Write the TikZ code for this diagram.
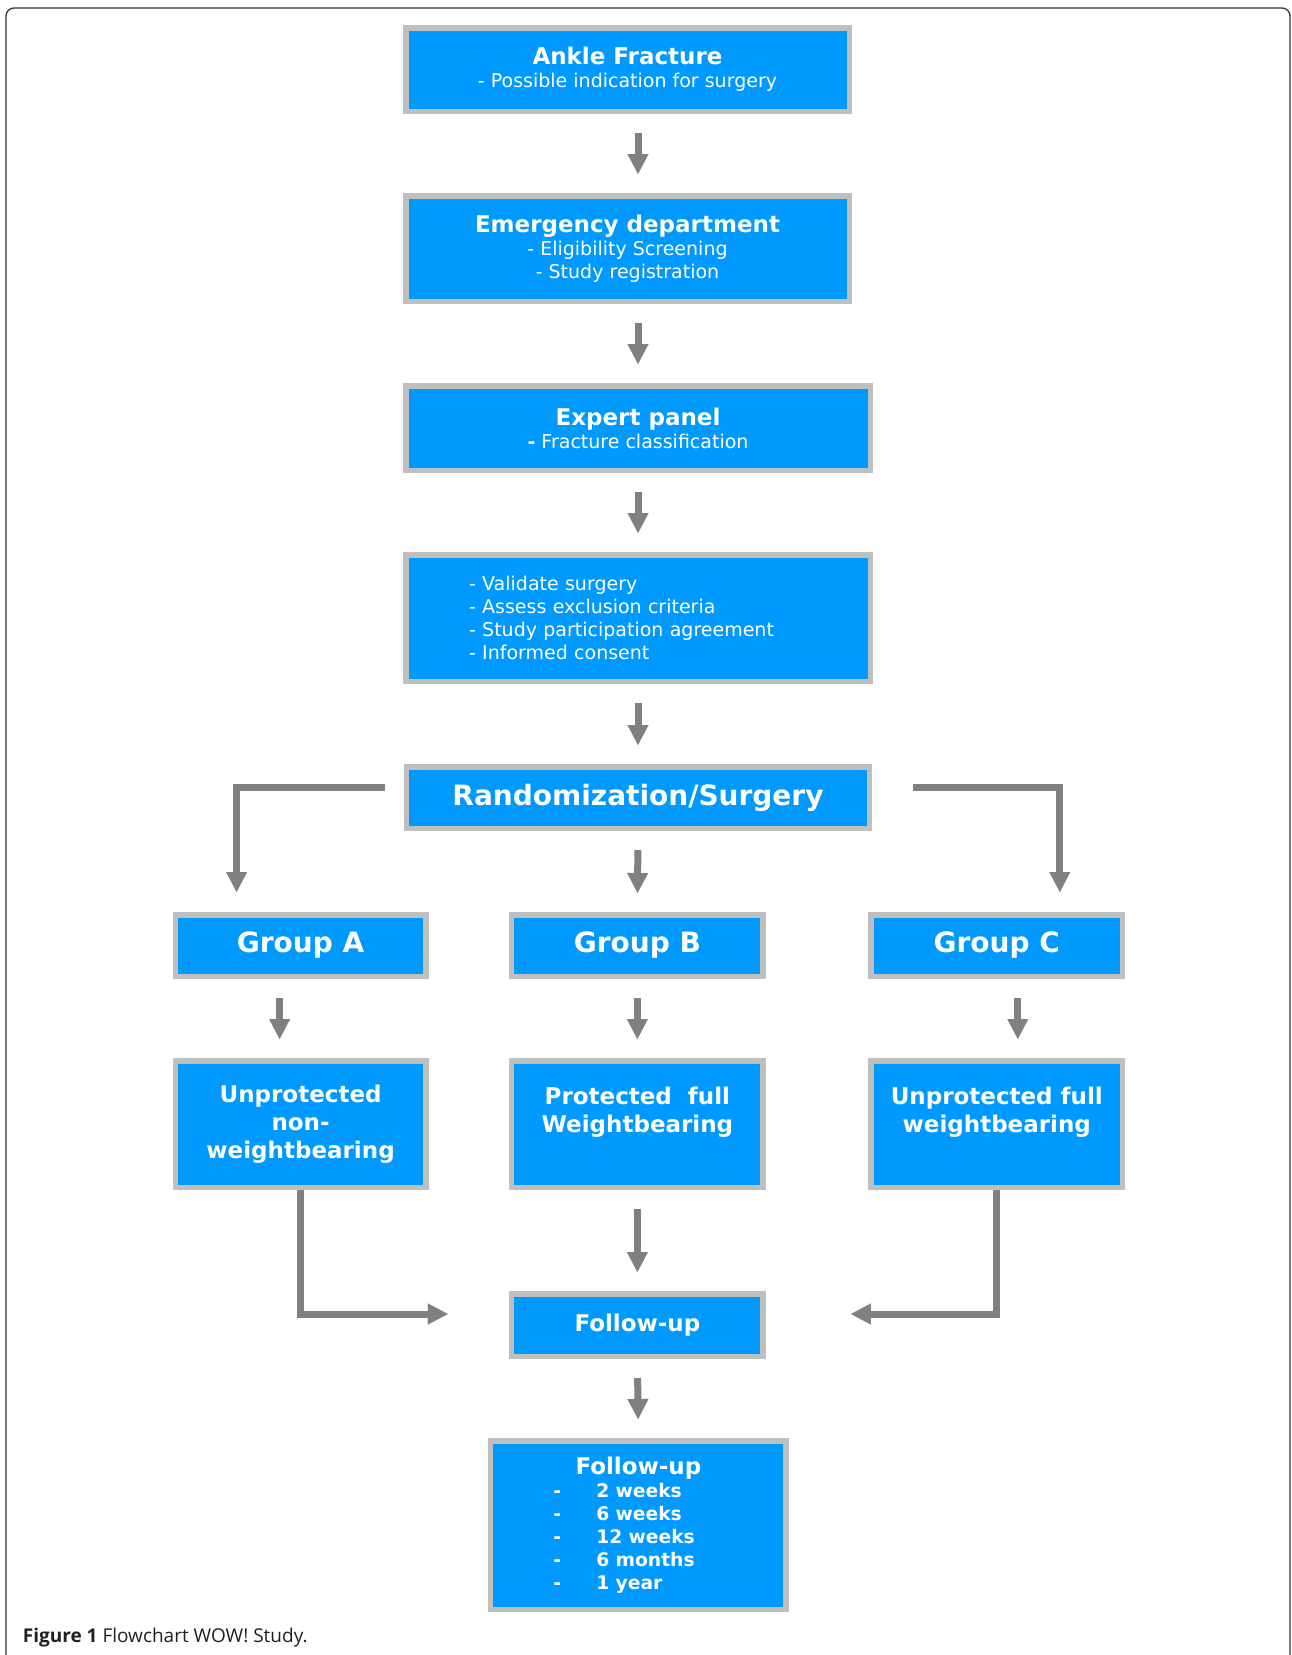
\documentclass[tikz,border=0pt]{standalone}
\usepackage{fontspec}
\setmainfont{DejaVu Sans}
\newfontfamily\captionfont{Open Sans}
\usetikzlibrary{arrows.meta}

\definecolor{boxblue}{RGB}{0,153,255}
\definecolor{boxgray}{RGB}{191,191,191}
\definecolor{arrowgray}{RGB}{128,128,128}
\definecolor{capgray}{RGB}{35,31,32}

\tikzset{
  box/.style={draw=boxgray, fill=boxblue, line width=5.5pt, text=white, align=center, inner sep=0pt,
    font=\fontsize{19}{23}\selectfont},
  bigbox/.style={box, font=\fontsize{28}{30}\selectfont\bfseries},
  armbox/.style={box, font=\fontsize{23}{28}\selectfont\bfseries},
  flow/.style={draw=arrowgray, line width=7pt, -{Triangle[width=21pt,length=20pt,line width=0.1pt]},
    shorten <=19pt, shorten >=19pt},
  elbow/.style={draw=arrowgray, line width=7pt, -{Triangle[width=21pt,length=20pt,line width=0.1pt]}},
}
\newcommand{\ttl}[1]{{\bfseries\fontsize{23}{23}\selectfont #1}}
\newcommand{\fitem}[1]{\makebox[43pt][l]{-}#1}

\begin{document}
\begin{tikzpicture}[x=1pt, y=-1pt]
  \useasboundingbox (0,0) rectangle (1292,1655);
  % Frame round the figure
  \draw[black!80, line width=1.3pt, rounded corners=8pt] (6,1655) -- (6,8) -- (1290,8) -- (1290,1655);

  % Screening steps
  \node[box, minimum width=443.5pt, minimum height=83.5pt] (ankle) at (627.5,69.5)
    {\ttl{Ankle Fracture}\\- Possible indication for surgery};
  \node[box, minimum width=443.5pt, minimum height=105.5pt] (emergency) at (627.5,248.5)
    {\ttl{Emergency department}\\- Eligibility Screening\\- Study registration};
  \node[box, minimum width=464.5pt, minimum height=84.5pt] (expert) at (638,428)
    {\ttl{Expert panel}\\{\bfseries -} Fracture classification};
  \node[box, minimum width=464.5pt, minimum height=126.5pt, text width=338pt, align=left] (validate) at (638,618)
    {- Validate surgery\\- Assess exclusion criteria\\- Study participation agreement\\- Informed consent};
  \node[bigbox, minimum width=463pt, minimum height=61.5pt] (random) at (638,797.5) {Randomization/Surgery};

  % Groups
  \node[bigbox, minimum width=250.5pt, minimum height=61.5pt] (groupA) at (300.6,945.5) {Group A};
  \node[bigbox, minimum width=251.5pt, minimum height=61.5pt] (groupB) at (637.4,945.5) {Group B};
  \node[bigbox, minimum width=251.5pt, minimum height=61.5pt] (groupC) at (996.8,945.5) {Group C};
  \node[armbox, minimum width=250.5pt, minimum height=126.5pt] (unprotA) at (300.6,1124)
    {Unprotected\\non-\\weightbearing};
  \node[armbox, minimum width=251.5pt, minimum height=126.5pt] (protB) at (637.4,1124)
    {Protected\ \ full\\Weightbearing\\\mbox{}};
  \node[armbox, minimum width=251.5pt, minimum height=126.5pt] (unprotC) at (996.8,1124)
    {Unprotected full\\weightbearing\\\mbox{}};

  % Follow-up
  \node[armbox, minimum width=251.5pt, minimum height=62.5pt] (followup) at (637.4,1325) {Follow-up};
  \node[box, minimum width=295.5pt, minimum height=168.5pt, text width=170pt, align=left,
    font=\fontsize{18.7}{23}\selectfont\bfseries] (visits) at (638.4,1525)
    {\makebox[170pt][c]{\fontsize{23}{23}\selectfont Follow-up}\\\fitem{2 weeks}\\\fitem{6 weeks}\\
     \fitem{12 weeks}\\\fitem{6 months}\\\fitem{1 year}};

  % Arrows down the middle
  \draw[flow] (ankle.south -| random) -- (emergency.north -| random);
  \draw[flow] (emergency.south -| random) -- (expert.north -| random);
  \draw[flow] (expert.south) -- (validate.north);
  \draw[flow] (validate.south) -- (random.north);
  \draw[flow] (random.south) -- (groupB.north);
  \draw[flow] ([xshift=-21pt]groupA.south) -- ([xshift=-21pt]unprotA.north);
  \draw[flow] (groupB.south) -- (protB.north);
  \draw[flow] ([xshift=21pt]groupC.south) -- ([xshift=21pt]unprotC.north);
  \draw[flow] (protB.south) -- (followup.north);
  \draw[flow] (followup.south) -- (visits.north);

  % Side branches
  \draw[elbow] ([shift={(-19pt,10.5pt)}]random.west) -| ([shift={(-64pt,20pt)}]groupA.north);
  \draw[elbow] ([shift={(41pt,10.5pt)}]random.east) -| ([shift={(63pt,20pt)}]groupC.north);
  \draw[elbow] (unprotA.south) |- ([shift={(-61pt,11pt)}]followup.west);
  \draw[elbow] (unprotC.south) |- ([shift={(85pt,11pt)}]followup.east);

  % Caption
  \node[anchor=base west, inner sep=0pt, text=capgray, font=\captionfont\fontsize{19}{23}\selectfont] (caption)
    at (22.7,1642.7) {\textbf{Figure 1} Flowchart WOW! Study.};
\end{tikzpicture}
\end{document}
